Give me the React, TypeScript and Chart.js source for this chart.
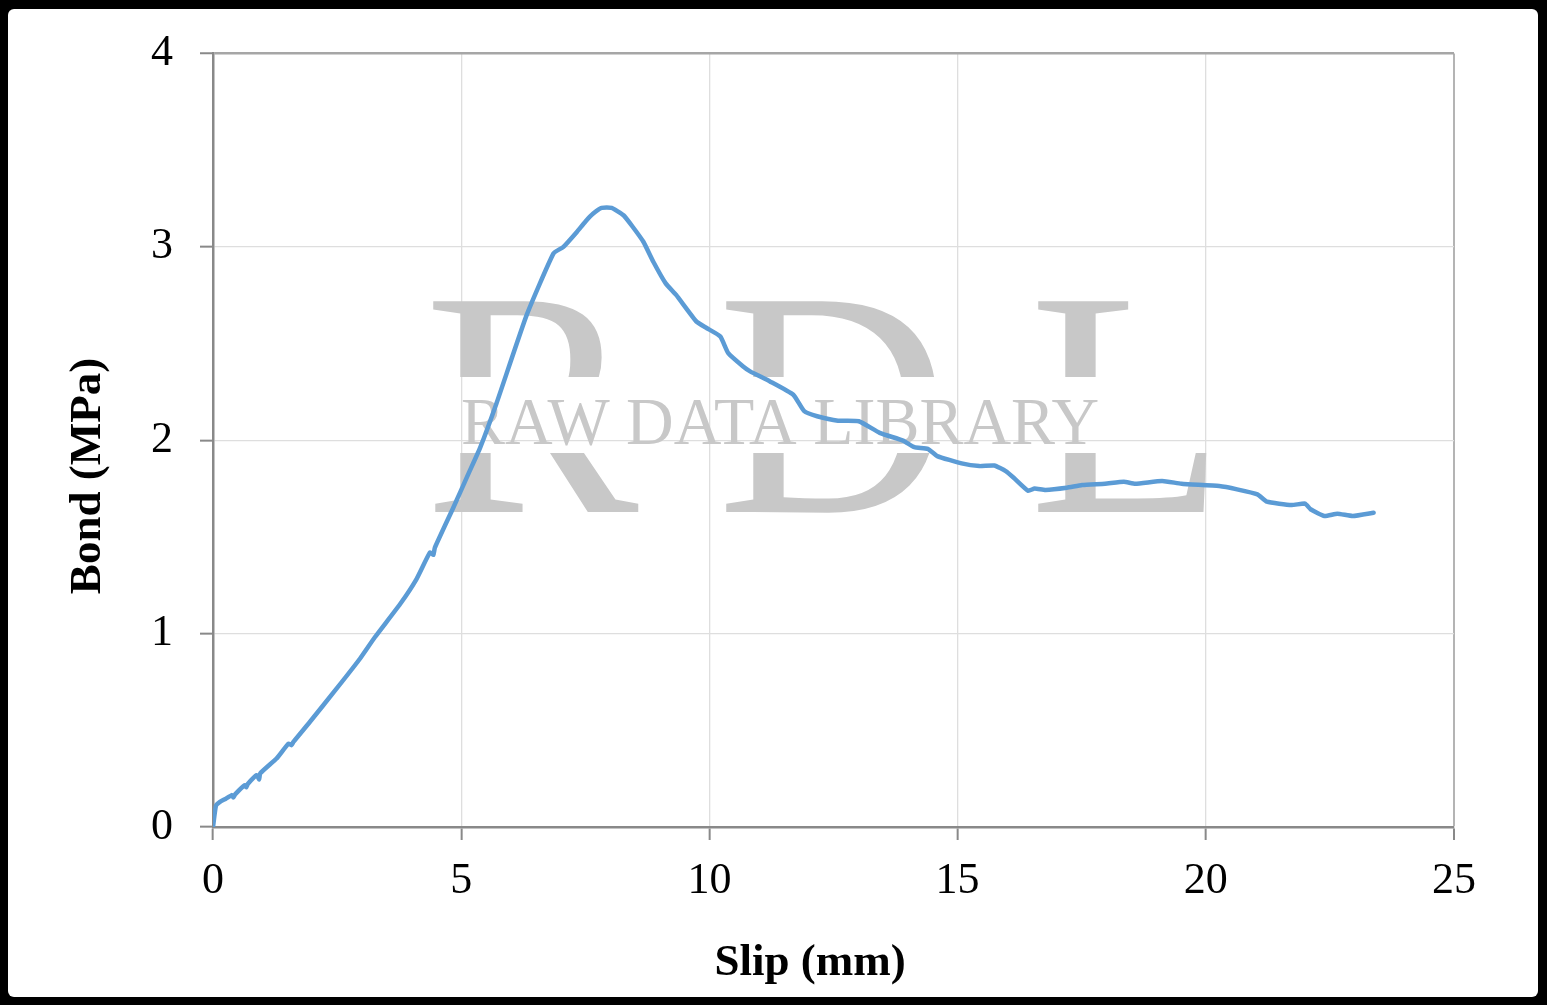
import React, { useEffect, useRef } from 'react';
import { Chart, registerables } from 'chart.js';

Chart.register(...registerables);

// ---- data ----
const slipMm = [
  0, 0.06, 0.14, 0.25, 0.38, 0.41, 0.45, 0.64, 0.67, 0.7, 0.88, 0.93, 0.95, 1.28, 1.52, 1.58, 1.62,
  1.95, 2.46, 2.96, 3.26, 3.77, 4.1, 4.37, 4.44, 4.47, 4.84, 5.14, 5.38, 5.71, 6.32, 6.86, 7.06,
  7.33, 7.5, 7.66, 7.83, 8.03, 8.27, 8.45, 8.67, 8.87, 9.12, 9.33, 9.74, 9.95, 10.22, 10.38, 10.68,
  10.82, 11.22, 11.69, 11.91, 12.17, 12.59, 13.01, 13.43, 13.9, 14.13, 14.4, 14.59, 15.08, 15.44,
  15.74, 15.97, 16.13, 16.42, 16.55, 16.77, 17.2, 17.51, 17.97, 18.35, 18.58, 19.12, 19.51, 20.27,
  20.63, 21.04, 21.23, 21.73, 22.0, 22.11, 22.39, 22.65, 22.96, 23.38,
];
const bondMPa = [
  0, 0.11, 0.13, 0.145, 0.165, 0.153, 0.17, 0.216, 0.205, 0.222, 0.268, 0.246, 0.277, 0.354, 0.431,
  0.423, 0.44, 0.543, 0.706, 0.87, 0.981, 1.153, 1.282, 1.419, 1.407, 1.445, 1.651, 1.823, 1.96,
  2.19, 2.648, 2.966, 3.0, 3.077, 3.13, 3.172, 3.201, 3.201, 3.163, 3.105, 3.026, 2.923, 2.811,
  2.751, 2.613, 2.579, 2.536, 2.45, 2.381, 2.356, 2.304, 2.235, 2.15, 2.124, 2.101, 2.098, 2.038,
  1.998, 1.964, 1.955, 1.918, 1.88, 1.866, 1.869, 1.84, 1.806, 1.739, 1.75, 1.743, 1.754, 1.768,
  1.775, 1.785, 1.775, 1.789, 1.775, 1.763, 1.746, 1.72, 1.682, 1.665, 1.672, 1.643, 1.608, 1.62,
  1.608, 1.625,
];
const xMin = 0;
const xMax = 25;
const xStep = 5;
const yMin = 0;
const yMax = 4;
const yStep = 1;
const xAxisTitle = 'Slip (mm)';
const yAxisTitle = 'Bond (MPa)';
const watermarkLetters = ['R', 'D', 'L'];
const watermarkText = 'RAW DATA LIBRARY';

const W = 1547;
const H = 1005;
const SERIF = '"Liberation Serif", "Times New Roman", serif';

const decorPlugin = {
  id: 'decor',
  beforeDraw(chart: any) {
    const ctx = chart.ctx;
    ctx.save();
    ctx.fillStyle = '#000';
    ctx.fillRect(0, 0, chart.width, chart.height);
    ctx.fillStyle = '#fff';
    ctx.beginPath();
    if (ctx.roundRect) ctx.roundRect(8, 9, 1530, 988, 6);
    else ctx.rect(8, 9, 1530, 988);
    ctx.fill();
    ctx.restore();
  },
  beforeDatasetsDraw(chart: any) {
    const ctx = chart.ctx;
    ctx.save();
    ctx.fillStyle = 'rgb(200,200,200)';
    ctx.textAlign = 'left';
    ctx.textBaseline = 'alphabetic';
    // big letters, with a blank band for the text line
    ctx.save();
    ctx.beginPath();
    ctx.rect(0, 0, W, 377);
    ctx.rect(0, 453, W, H - 453);
    ctx.clip();
    const lefts = [429, 722, 1034];
    ctx.font = `322px ${SERIF}`;
    watermarkLetters.forEach((l, i) => {
      const m = ctx.measureText(l);
      ctx.fillText(l, lefts[i] + m.actualBoundingBoxLeft, 512);
    });
    ctx.restore();
    // text line
    ctx.font = `68px ${SERIF}`;
    const m = ctx.measureText(watermarkText);
    const inkW = m.actualBoundingBoxLeft + m.actualBoundingBoxRight;
    const sx = 636 / inkW;
    ctx.translate(462, 444);
    ctx.scale(sx, 1);
    ctx.fillText(watermarkText, m.actualBoundingBoxLeft, 0);
    ctx.restore();
  },
  afterDraw(chart: any) {
    const ctx = chart.ctx;
    ctx.save();
    ctx.fillStyle = '#000';
    ctx.font = `bold 45px ${SERIF}`;
    ctx.textAlign = 'center';
    ctx.textBaseline = 'alphabetic';
    ctx.fillText(xAxisTitle, 810, 975);
    ctx.translate(100, 476);
    ctx.rotate(-Math.PI / 2);
    ctx.fillText(yAxisTitle, 0, 0);
    ctx.restore();
  },
};

export default function App() {
  const ref = useRef<HTMLCanvasElement | null>(null);
  useEffect(() => {
    if (!ref.current) return;
    const points = slipMm.map((x, i) => ({ x, y: bondMPa[i] }));
    const chart = new Chart(ref.current, {
      type: 'scatter',
      data: {
        datasets: [
          {
            data: points,
            showLine: true,
            borderColor: '#5b9bd5',
            backgroundColor: '#5b9bd5',
            borderWidth: 4.5,
            pointRadius: 0,
            tension: 0.15,
            borderJoinStyle: 'round',
            borderCapStyle: 'round',
          } as any,
        ],
      },
      options: {
        responsive: false,
        animation: false,
        devicePixelRatio: 1,
        layout: { padding: { top: 51, right: 93, left: 0, bottom: 0 } },
        plugins: { legend: { display: false }, tooltip: { enabled: false } },
        scales: {
          x: {
            type: 'linear',
            min: xMin,
            max: xMax,
            afterFit: (s: any) => {
              s.height = 178;
            },
            ticks: {
              stepSize: xStep,
              color: '#000',
              font: { family: SERIF, size: 44 },
              padding: 15,
              maxRotation: 0,
            },
            grid: {
              color: (c: any) => (c.tick && c.tick.value === xMax ? '#b4b4b4' : '#dedede'),
              lineWidth: (c: any) => (c.tick && c.tick.value === xMax ? 2 : 1.3),
              tickColor: '#898989',
              tickWidth: 2,
              tickLength: 13,
            },
            border: { color: '#898989', width: 2.5 },
          },
          y: {
            type: 'linear',
            min: yMin,
            max: yMax,
            afterFit: (s: any) => {
              s.width = 213;
            },
            ticks: {
              stepSize: yStep,
              color: '#000',
              font: { family: SERIF, size: 44 },
              padding: 27,
            },
            grid: {
              color: (c: any) => (c.tick && c.tick.value === yMax ? '#a6a6a6' : '#dedede'),
              lineWidth: (c: any) => (c.tick && c.tick.value === yMax ? 2.5 : 1.3),
              tickColor: '#898989',
              tickWidth: 2,
              tickLength: 13,
            },
            border: { color: '#898989', width: 2.5 },
          },
        },
      },
      plugins: [decorPlugin],
    });
    return () => chart.destroy();
  }, []);

  return (
    <div style={{ position: 'fixed', left: 0, top: 0, width: W, height: H, background: '#fff' }}>
      <canvas ref={ref} width={W} height={H} style={{ display: 'block', width: W, height: H }} />
    </div>
  );
}
